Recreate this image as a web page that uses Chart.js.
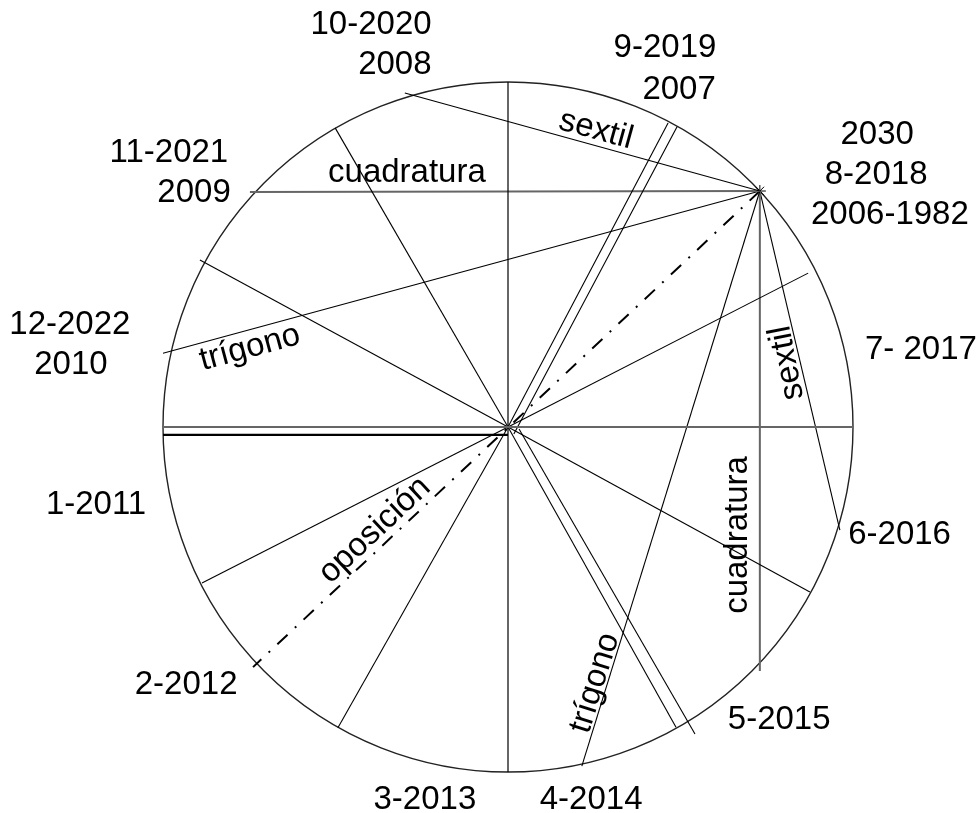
<!DOCTYPE html>
<html>
<head>
<meta charset="utf-8">
<script src="https://cdn.jsdelivr.net/npm/chart.js@4.4.1/dist/chart.umd.min.js"></script>
<style>
  html, body { margin: 0; padding: 0; background: #fff; }
  canvas { display: block; }
</style>
</head>
<body>
<canvas id="wheel" width="980" height="813"></canvas>
<script>
// wheel drawn on a unit circle: centre (0,0), radius 1
const centre = { x: 0, y: 0 };
const focus = { x: 0.730, y: 0.684 };   // 2030 / 8-2018 / 2006-1982

// radial lines from the centre to the rim
const spokeEnds = [
  [-0.893, 0.484], [-0.501, 0.867], [0.464, 0.881], [0.870, 0.446],
  [0.875, -0.478], [0.487, -0.870], [-0.493, -0.872], [-0.887, -0.452]
];

// second line of the two doubled spokes (start, end)
const doubleSpokes = [
  [[0.017, -0.020], [0.490, 0.870]],
  [[0.032, -0.006], [0.542, -0.890]]
];

// aspect chords from the focus point
const aspectNames = ['sextil', 'cuadratura', 'trígono', 'trígono', 'cuadratura', 'sextil'];
const aspectEnds = [
  [-0.299, 0.968], [-0.748, 0.681], [-1.0, 0.214],
  [0.214, -0.983], [0.730, -0.707], [0.962, -0.299]
];
const oppositionEnd = [-0.739, -0.696];

// rim labels
const dateLabels = [
  '10-2020', '2008', '9-2019', '2007', '2030', '8-2018', '2006-1982',
  '11-2021', '2009', '12-2022', '2010', '7- 2017', '1-2011', '6-2016',
  '2-2012', '5-2015', '3-2013', '4-2014'
];

// ---- placement (data units of the unit circle) ----
const datePos = [
  [-0.397, 1.165], [-0.328, 1.049], [0.455, 1.099], [0.496, 0.977],
  [1.070, 0.846], [1.067, 0.730], [1.107, 0.614],
  [-0.983, 0.794], [-0.910, 0.678], [-1.270, 0.296], [-1.267, 0.180],
  [1.197, 0.223], [-1.194, -0.226], [1.135, -0.313],
  [-0.933, -0.748], [0.786, -0.849], [-0.241, -1.081], [0.241, -1.081]
];
const aspectWords = [
  { text: 'cuadratura', x: -0.293, y: 0.736, rot: 0 },
  { text: 'sextil', x: 0.255, y: 0.861, rot: 15.4 },
  { text: 'trígono', x: -0.748, y: 0.229, rot: -15.2 },
  { text: 'sextil', x: 0.809, y: 0.186, rot: -101 },
  { text: 'cuadratura', x: 0.667, y: -0.313, rot: -90 },
  { text: 'oposición', x: -0.386, y: -0.299, rot: -43.2 },
  { text: 'trígono', x: 0.252, y: -0.742, rot: -72.8 }
];

const FONT = '33px "Liberation Sans", Arial, sans-serif';

function seg(a, b, color, width, extra) {
  return Object.assign({
    data: [{ x: a[0], y: a[1] }, { x: b[0], y: b[1] }],
    showLine: true,
    borderColor: color,
    borderWidth: width,
    pointRadius: 0,
    clip: false
  }, extra || {});
}

const datasets = [];
datasets.push(seg([-1, 0], [1, 0], '#666', 2));
datasets.push(seg([0, 1], [0, -1], '#000', 1.2));
datasets.push(seg([-1, -0.023], [0, -0.023], '#000', 2.2));
spokeEnds.forEach(e => datasets.push(seg([centre.x, centre.y], e, '#000', 1.1)));
doubleSpokes.forEach(s => datasets.push(seg(s[0], s[1], '#000', 1.1)));
aspectEnds.forEach((e, i) => {
  const straight = aspectNames[i] === 'cuadratura';
  datasets.push(seg([focus.x, focus.y], e, straight ? '#666' : '#000', straight ? 2 : 1.1));
});
datasets.push(seg([focus.x, focus.y], oppositionEnd, '#000', 2, { borderDash: [14, 10, 2, 10] }));
datasets.push({
  data: [focus],
  pointStyle: 'star',
  pointRadius: 6,
  borderColor: '#000',
  borderWidth: 1,
  clip: false
});

const wheelPlugin = {
  id: 'wheel',
  beforeDatasetsDraw(chart) {
    const { ctx, scales: { x, y } } = chart;
    const cx = x.getPixelForValue(0), cy = y.getPixelForValue(0);
    const r = x.getPixelForValue(1) - cx;
    ctx.save();
    ctx.beginPath();
    ctx.arc(cx, cy, r, 0, Math.PI * 2);
    ctx.strokeStyle = '#222';
    ctx.lineWidth = 1.4;
    ctx.stroke();
    ctx.restore();
  },
  afterDatasetsDraw(chart) {
    const { ctx, scales: { x, y } } = chart;
    ctx.save();
    ctx.font = FONT;
    ctx.fillStyle = '#000';
    ctx.textAlign = 'center';
    ctx.textBaseline = 'middle';
    dateLabels.forEach((t, i) => {
      ctx.fillText(t, x.getPixelForValue(datePos[i][0]), y.getPixelForValue(datePos[i][1]));
    });
    aspectWords.forEach(w => {
      ctx.save();
      ctx.translate(x.getPixelForValue(w.x), y.getPixelForValue(w.y));
      ctx.rotate(w.rot * Math.PI / 180);
      ctx.fillText(w.text, 0, 0);
      ctx.restore();
    });
    ctx.restore();
  }
};

new Chart(document.getElementById('wheel'), {
  type: 'scatter',
  data: { datasets: datasets },
  options: {
    responsive: false,
    animation: false,
    layout: { padding: { left: 163, right: 127, top: 82, bottom: 41 } },
    scales: {
      x: { type: 'linear', min: -1, max: 1, display: false },
      y: { type: 'linear', min: -1, max: 1, display: false }
    },
    plugins: { legend: { display: false }, tooltip: { enabled: false } }
  },
  plugins: [wheelPlugin]
});
</script>
</body>
</html>
